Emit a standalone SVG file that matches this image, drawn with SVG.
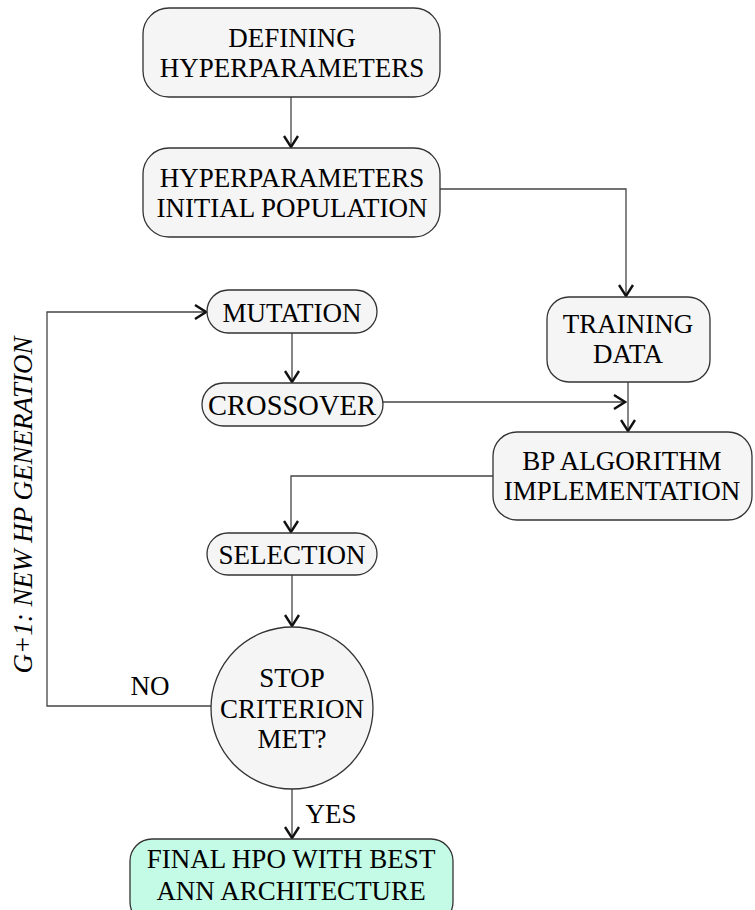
<svg xmlns="http://www.w3.org/2000/svg" width="755" height="910" viewBox="0 0 755 910">
<defs>
<marker id="a" markerWidth="16" markerHeight="16" viewBox="-14 -8 16 16" refX="0" refY="0" orient="auto" markerUnits="userSpaceOnUse">
<path d="M-11,-7 L0,0 L-11,7" fill="none" stroke="#111" stroke-width="2.4"/>
</marker>
</defs>
<rect width="755" height="910" fill="#fff"/>
<g id="connectors" fill="none" stroke="#444" stroke-width="1.3">
<path d="M291,97 V147" marker-end="url(#a)"/>
<path d="M440,189 H626 V296" marker-end="url(#a)"/>
<path d="M292,333 V382" marker-end="url(#a)"/>
<path d="M383,402 H625" marker-end="url(#a)"/>
<path d="M628,382 V431" marker-end="url(#a)"/>
<path d="M493,476 H291 V532" marker-end="url(#a)"/>
<path d="M292,575 V626" marker-end="url(#a)"/>
<path d="M211,706 H47 V312 H206" marker-end="url(#a)"/>
<path d="M292,789 V838" marker-end="url(#a)"/>
</g>
<g id="n1">
<rect x="143" y="8" width="297" height="89" rx="26" fill="#f5f5f5" stroke="#333" stroke-width="1.3"/>
<text x="292" y="47" font-family="Times New Roman, Liberation Serif, serif" font-size="27" text-anchor="middle">DEFINING</text>
<text x="292" y="77" font-family="Times New Roman, Liberation Serif, serif" font-size="27" text-anchor="middle">HYPERPARAMETERS</text>
</g>
<g id="n2">
<rect x="143" y="148" width="297" height="89" rx="26" fill="#f5f5f5" stroke="#333" stroke-width="1.3"/>
<text x="292" y="187" font-family="Times New Roman, Liberation Serif, serif" font-size="27" text-anchor="middle">HYPERPARAMETERS</text>
<text x="292" y="217" font-family="Times New Roman, Liberation Serif, serif" font-size="27" text-anchor="middle">INITIAL POPULATION</text>
</g>
<g id="n3">
<rect x="547" y="297" width="163" height="85" rx="22" fill="#f5f5f5" stroke="#333" stroke-width="1.3"/>
<text x="628" y="333" font-family="Times New Roman, Liberation Serif, serif" font-size="27" text-anchor="middle">TRAINING</text>
<text x="628" y="363" font-family="Times New Roman, Liberation Serif, serif" font-size="27" text-anchor="middle">DATA</text>
</g>
<g id="n4">
<rect x="207" y="290" width="170" height="43" rx="21.5" fill="#f5f5f5" stroke="#333" stroke-width="1.3"/>
<text x="292" y="322" font-family="Times New Roman, Liberation Serif, serif" font-size="27" text-anchor="middle">MUTATION</text>
</g>
<g id="n5">
<rect x="202" y="383" width="181" height="43" rx="21.5" fill="#f5f5f5" stroke="#333" stroke-width="1.3"/>
<text x="292" y="415" font-family="Times New Roman, Liberation Serif, serif" font-size="28.5" text-anchor="middle">CROSSOVER</text>
</g>
<g id="n6">
<rect x="493" y="432" width="259" height="88" rx="24" fill="#f5f5f5" stroke="#333" stroke-width="1.3"/>
<text x="622" y="470" font-family="Times New Roman, Liberation Serif, serif" font-size="27" text-anchor="middle">BP ALGORITHM</text>
<text x="622" y="500" font-family="Times New Roman, Liberation Serif, serif" font-size="27" text-anchor="middle">IMPLEMENTATION</text>
</g>
<g id="n7">
<rect x="207" y="533" width="170" height="42" rx="21" fill="#f5f5f5" stroke="#333" stroke-width="1.3"/>
<text x="292" y="564" font-family="Times New Roman, Liberation Serif, serif" font-size="27" text-anchor="middle">SELECTION</text>
</g>
<g id="n8">
<circle cx="292" cy="708" r="81" fill="#f5f5f5" stroke="#333" stroke-width="1.3"/>
<text x="292" y="687" font-family="Times New Roman, Liberation Serif, serif" font-size="27" text-anchor="middle">STOP</text>
<text x="292" y="718" font-family="Times New Roman, Liberation Serif, serif" font-size="27" text-anchor="middle">CRITERION</text>
<text x="292" y="748" font-family="Times New Roman, Liberation Serif, serif" font-size="27" text-anchor="middle">MET?</text>
</g>
<g id="n9">
<rect x="130" y="839" width="323" height="85" rx="22" fill="#c4fbe6" stroke="#333" stroke-width="1.3"/>
<text x="291" y="868" font-family="Times New Roman, Liberation Serif, serif" font-size="27" text-anchor="middle">FINAL HPO WITH BEST</text>
<text x="291" y="900" font-family="Times New Roman, Liberation Serif, serif" font-size="27" text-anchor="middle">ANN ARCHITECTURE</text>
</g>
<g id="labels">
<text x="150" y="695" font-family="Times New Roman, Liberation Serif, serif" font-size="27" text-anchor="middle">NO</text>
<text x="331" y="823" font-family="Times New Roman, Liberation Serif, serif" font-size="27" text-anchor="middle">YES</text>
<text x="0" y="0" font-family="Times New Roman, Liberation Serif, serif" font-size="27" text-anchor="middle" font-style="italic" transform="translate(32,505) rotate(-90)">G+1: NEW HP GENERATION</text>
</g>
</svg>
